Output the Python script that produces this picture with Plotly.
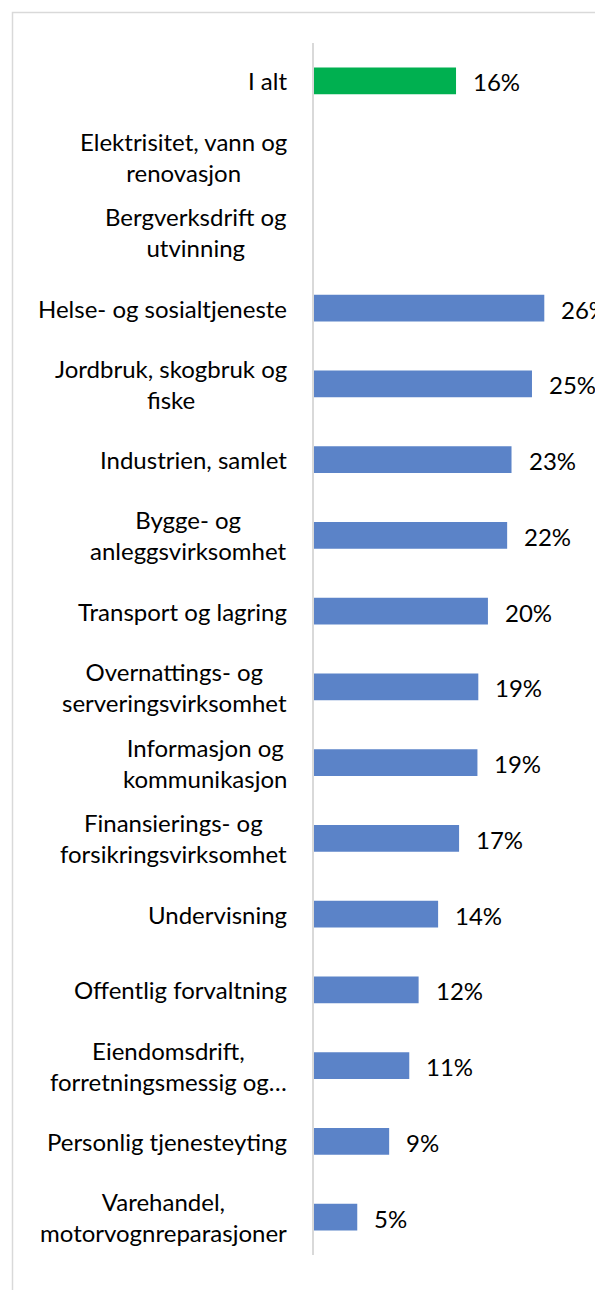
import plotly.graph_objects as go

categories = [
    "I alt",
    "Elektrisitet, vann og<br>renovasjon",
    "Bergverksdrift og<br>utvinning",
    "Helse- og sosialtjeneste",
    "Jordbruk, skogbruk og<br>fiske",
    "Industrien, samlet",
    "Bygge- og<br>anleggsvirksomhet",
    "Transport og lagring",
    "Overnattings- og<br>serveringsvirksomhet",
    "Informasjon og<br>kommunikasjon",
    "Finansierings- og<br>forsikringsvirksomhet",
    "Undervisning",
    "Offentlig forvaltning",
    "Eiendomsdrift,<br>forretningsmessig og…",
    "Personlig tjenesteyting",
    "Varehandel,<br>motorvognreparasjoner",
]
values = [0.1625, None, None, 0.2635, 0.2494, 0.226, 0.221, 0.199, 0.188, 0.187,
          0.166, 0.142, 0.1197, 0.109, 0.086, 0.0495]
value_labels = ["16%", "", "", "26%", "25%", "23%", "22%", "20%", "19%", "19%",
                "17%", "14%", "12%", "11%", "9%", "5%"]
highlight = ["I alt"]

GREEN = "#00B050"
BLUE = "#5B83C8"
FONT = "Lato"
FS = 24

ids = list(range(len(categories)))
colors = [GREEN if c in highlight else BLUE for c in categories]

fig = go.Figure()
fig.add_trace(go.Bar(
    x=values, y=ids, orientation="h",
    marker=dict(color=colors, line=dict(width=0)),
    width=0.352, hoverinfo="skip",
))

annotations = []
for i, cat in enumerate(categories):
    annotations.append(dict(
        x=0, y=i, xref="x", yref="y", text=cat, showarrow=False,
        xanchor="right", yanchor="middle", align="center", xshift=-25,
        font=dict(family=FONT, size=FS, color="#000000"),
    ))
for i, (v, lab) in enumerate(zip(values, value_labels)):
    if v is None:
        continue
    annotations.append(dict(
        x=v, y=i, xref="x", yref="y", text=lab, showarrow=False,
        xanchor="left", yanchor="middle", xshift=15, yshift=-1,
        font=dict(family=FONT, size=FS, color="#000000"),
    ))

L, R, T, B = 314, 0, 43, 35
W, H = 595, 1290
pw = W - L - R
ph = H - T - B

def px_x(x):
    return (x - L) / pw

def px_y(y):
    return (H - B - y) / ph

fig.update_layout(
    width=W, height=H,
    margin=dict(l=L, r=R, t=T, b=B, pad=0),
    paper_bgcolor="white", plot_bgcolor="white",
    showlegend=False,
    font=dict(family=FONT, size=FS, color="#000000"),
    xaxis=dict(range=[0, pw / 8.74 / 100], showgrid=False, zeroline=False,
               showticklabels=False, showline=False, fixedrange=True),
    yaxis=dict(range=[len(categories) - 0.5, -0.5], showgrid=False, zeroline=False,
               showticklabels=False, showline=True, linecolor="#D9D9D9", linewidth=1.5,
               ticks="", fixedrange=True),
    annotations=annotations,
    shapes=[dict(type="rect", xref="paper", yref="paper",
                 x0=px_x(12.5), x1=px_x(700), y0=px_y(1400), y1=px_y(12.5),
                 line=dict(color="#D9D9D9", width=1.5), fillcolor="rgba(0,0,0,0)",
                 layer="below")],
)

fig.write_html(
    "out.html",
    config={"displayModeBar": False},
    post_script="document.body.style.margin='0';document.body.style.overflow='hidden';",
)
